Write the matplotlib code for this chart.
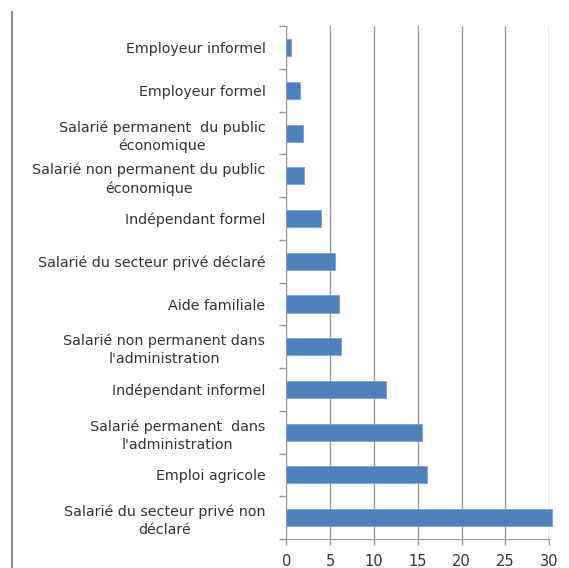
import matplotlib
matplotlib.use("Agg")
import matplotlib.pyplot as plt
import numpy as np

categories = [
    "Employeur informel",
    "Employeur formel",
    "Salarié permanent  du public\néconomique",
    "Salarié non permanent du public\néconomique",
    "Indépendant formel",
    "Salarié du secteur privé déclaré",
    "Aide familiale",
    "Salarié non permanent dans\nl'administration",
    "Indépendant informel",
    "Salarié permanent  dans\nl'administration",
    "Emploi agricole",
    "Salarié du secteur privé non\ndéclaré",
]
values = [0.5, 1.6, 1.9, 2.0, 4.0, 5.5, 6.0, 6.2, 11.4, 15.5, 16.1, 30.3]
xticks = [0, 5, 10, 15, 20, 25, 30]

plt.rcParams['font.family'] = ['DejaVu Sans']

fig = plt.figure(figsize=(5.69, 5.68), dpi=100)
ax = fig.add_axes([286.3 / 569, 1 - 539 / 568, (549.3 - 286.3) / 569, (539 - 26.3) / 568])

y = np.arange(len(categories))
ax.barh(y, values, height=0.4, color='#4f81bd', edgecolor='#7aa3d3', linewidth=0.6, zorder=3, clip_on=False)
ax.set_ylim(len(categories) - 0.5, -0.5)
ax.set_xlim(0, 30)
ax.set_xticks(xticks)
ax.set_xticklabels([str(t) for t in xticks], fontsize=10.5, color='#333333')
ax.set_yticks(y)
ax.set_yticklabels(categories, fontsize=10.3, color='#333333', ha='right',
                   multialignment='center', linespacing=1.35)
ax.tick_params(axis='y', which='major', length=0, pad=15)
ax.set_yticks(np.arange(-0.5, len(categories), 1), minor=True)
ax.tick_params(axis='y', which='minor', length=5, width=1, color='#999999', direction='out')
ax.tick_params(axis='x', length=4, width=1, color='#999999', direction='out', pad=7)
ax.grid(axis='x', color='#9a9a9a', linewidth=1.0, zorder=0)
for s in ['top', 'right']:
    ax.spines[s].set_visible(False)
ax.spines['left'].set_color('#999999')
ax.spines['bottom'].set_color('#999999')

fig.add_artist(plt.Line2D([11.7 / 569, 11.7 / 569], [0, 1 - 12 / 568], color='#8c8c8c', linewidth=1.5))

fig.savefig('out.png', dpi=100)
